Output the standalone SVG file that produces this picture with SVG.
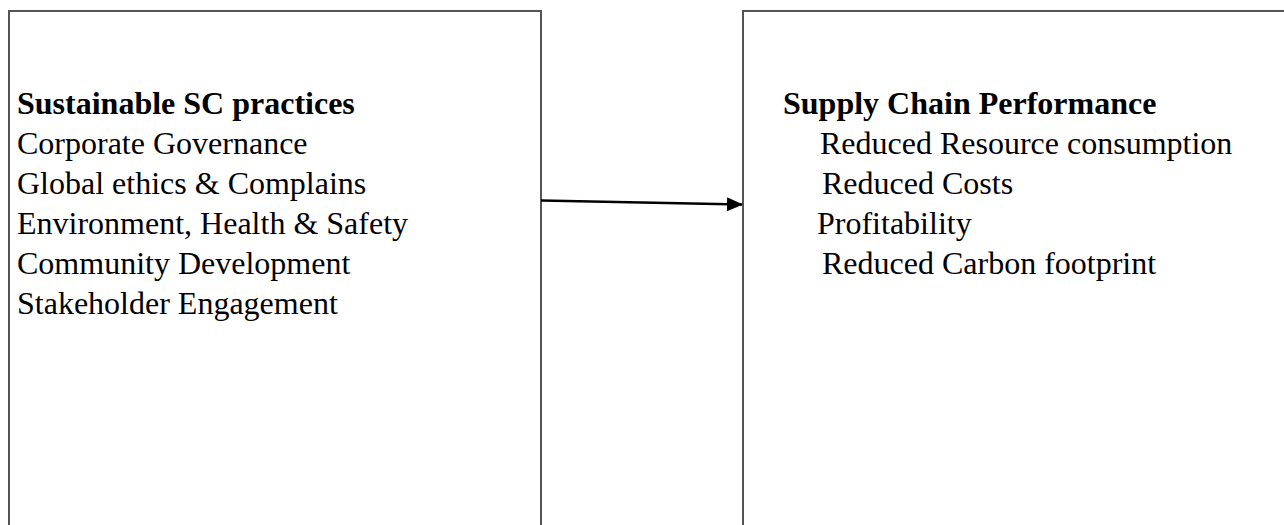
<svg xmlns="http://www.w3.org/2000/svg" width="1284" height="525" viewBox="0 0 1284 525">
<style>
.box{fill:#fff;stroke:#555;stroke-width:2}
.t{font-family:"Liberation Serif","Times New Roman",serif;font-size:32px;fill:#000}
.b{font-weight:bold}
.conn{stroke:#000;stroke-width:2.5;fill:none}
</style>
<defs>
<marker id="arr" markerWidth="16" markerHeight="14" refX="15" refY="7" orient="auto" markerUnits="userSpaceOnUse">
<path d="M0,0 L16,7 L0,14 Z" fill="#000"/>
</marker>
</defs>
<rect width="1284" height="525" fill="#fff"/>
<g id="node-practices">
<rect class="box" x="9" y="11" width="532" height="530"/>
<text class="t b" x="17" y="114">Sustainable SC practices</text>
<text class="t" x="17" y="154">Corporate Governance</text>
<text class="t" x="17" y="194">Global ethics &amp; Complains</text>
<text class="t" x="17" y="234">Environment, Health &amp; Safety</text>
<text class="t" x="17" y="274">Community Development</text>
<text class="t" x="17" y="314">Stakeholder Engagement</text>
</g>
<g id="node-performance">
<rect class="box" x="743" y="11" width="560" height="530"/>
<text class="t b" x="783" y="114">Supply Chain Performance</text>
<text class="t" x="820" y="154">Reduced Resource consumption</text>
<text class="t" x="822" y="194">Reduced Costs</text>
<text class="t" x="817" y="234">Profitability</text>
<text class="t" x="822" y="274">Reduced Carbon footprint</text>
</g>
<g id="connectors">
<line class="conn" x1="541" y1="200.5" x2="742" y2="204.5" marker-end="url(#arr)"/>
</g>
</svg>
